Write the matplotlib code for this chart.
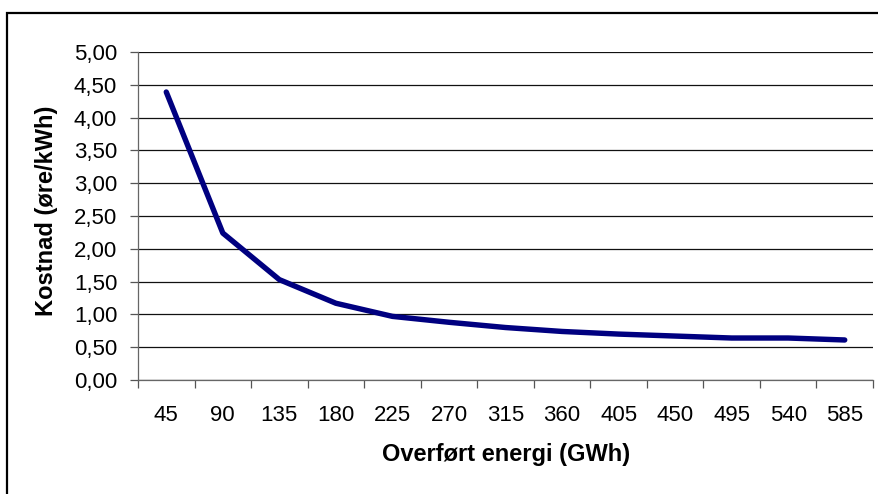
import matplotlib
matplotlib.use("Agg")
import matplotlib.pyplot as plt
from matplotlib.patches import Rectangle
from matplotlib.ticker import FixedLocator, NullFormatter

categories = ["45", "90", "135", "180", "225", "270", "315", "360",
              "405", "450", "495", "540", "585"]
cost = [4.39, 2.24, 1.53, 1.17, 0.97, 0.88, 0.80, 0.74, 0.70, 0.67, 0.64, 0.64, 0.61]
y_ticks = [0.0, 0.5, 1.0, 1.5, 2.0, 2.5, 3.0, 3.5, 4.0, 4.5, 5.0]
x_title = "Overført energi (GWh)"
y_title = "Kostnad (øre/kWh)"

plt.rcParams['font.family'] = ['Liberation Sans', 'DejaVu Sans']

W, H = 879, 494
fig = plt.figure(figsize=(W / 100, H / 100), dpi=100)
fig.patch.set_facecolor('white')

# outer chart frame
fig.patches.append(Rectangle((7 / W, -0.1), 1.2, 1 - 13 / H + 0.1,
                             transform=fig.transFigure, fill=False,
                             edgecolor='black', linewidth=1.6))

ax = fig.add_axes([138 / W, 1 - 380 / H, (873 - 138) / W, (380 - 52) / H])
x = list(range(len(categories)))
ax.plot(x, cost, color='#000080', linewidth=3.9, solid_capstyle='round',
        solid_joinstyle='round', zorder=3)

ax.set_xlim(-0.5, len(categories) - 0.5)
ax.set_ylim(0, 5)

ax.set_yticks(y_ticks)
ax.set_yticklabels([f"{v:.2f}".replace('.', ',') for v in y_ticks])
ax.yaxis.grid(True, color='#111111', linewidth=0.9)
ax.set_axisbelow(True)

ax.xaxis.set_major_locator(FixedLocator([i - 0.5 for i in range(len(categories) + 1)]))
ax.xaxis.set_major_formatter(NullFormatter())
ax.xaxis.set_minor_locator(FixedLocator(x))
ax.set_xticklabels(categories, minor=True)
ax.tick_params(axis='x', which='major', length=6, width=0.9, color='#555555', direction='out')
ax.tick_params(axis='x', which='minor', length=0, pad=18, labelsize=16)
ax.tick_params(axis='y', length=6, width=0.9, color='#555555', direction='out', pad=9, labelsize=16)

for s in ['top', 'right']:
    ax.spines[s].set_visible(False)
for s in ['left', 'bottom']:
    ax.spines[s].set_color('#666666')
    ax.spines[s].set_linewidth(0.9)

fig.text(506 / W, 1 - 454 / H, x_title, ha='center', va='center',
         fontsize=17, fontweight='bold')
fig.text(47 / W, 1 - 211 / H, y_title, ha='center', va='center',
         rotation=90, fontsize=17, fontweight='bold')

fig.savefig('out.png', dpi=100)
